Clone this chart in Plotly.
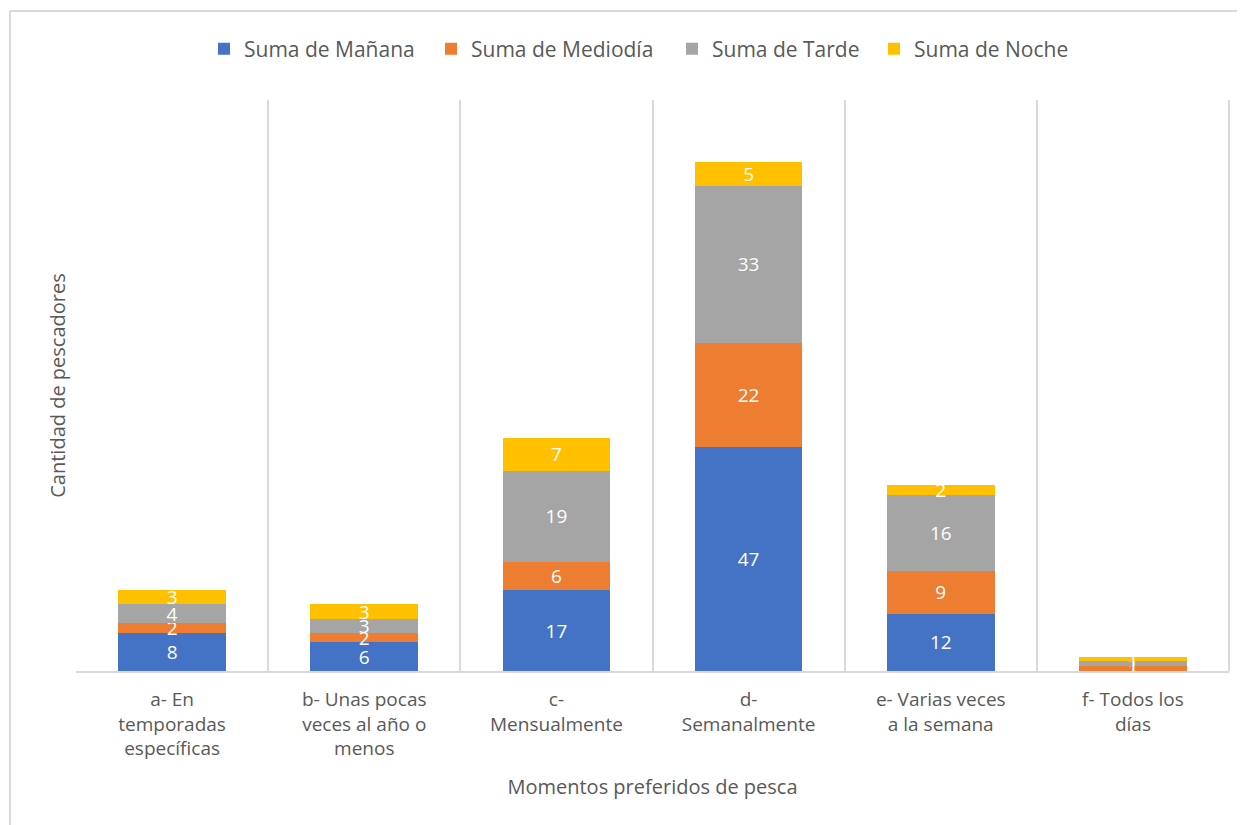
import plotly.graph_objects as go

categories = [
    "a- En<br>temporadas<br>específicas",
    "b- Unas pocas<br>veces al año o<br>menos",
    "c-<br>Mensualmente",
    "d-<br>Semanalmente",
    "e- Varias veces<br>a la semana",
    "f- Todos los<br>días",
]
manana = [8, 6, 17, 47, 12, 0]
mediodia = [2, 2, 6, 22, 9, 1]
tarde = [4, 3, 19, 33, 16, 1]
noche = [3, 3, 7, 5, 2, 1]

series = [
    ("Suma de Mañana", manana, "#4472C4"),
    ("Suma de Mediodía", mediodia, "#ED7D31"),
    ("Suma de Tarde", tarde, "#A5A5A5"),
    ("Suma de Noche", noche, "#FFC000"),
]
legend_ids = ["legend", "legend2", "legend3", "legend4"]

FONT = "Open Sans, Lato, sans-serif"

fig = go.Figure()
for (name, vals, color), lid in zip(series, legend_ids):
    fig.add_trace(go.Bar(
        x=categories, y=vals, name=name, legend=lid, showlegend=True,
        marker=dict(color=color, line=dict(width=0)),
        text=[str(v) for v in vals],
        textposition="inside",
        insidetextanchor="middle",
        textangle=0,
        textfont=dict(color="white", size=19, family=FONT),
        cliponaxis=False,
    ))

# page is offset by 8px (body margin), so figure coords = screen - 8
OFF = 8
PL, PT, PW, PH = 76 - OFF, 100 - OFF, 1153, 571
W, H = 1245, 825

legend_left_screen = [204, 431, 672, 874]
legend_layout = {}
for lid, xs in zip(legend_ids, legend_left_screen):
    legend_layout[lid] = dict(
        orientation="h", x=(xs - OFF - PL) / PW, xanchor="left",
        y=(PT + PH - (49 - OFF)) / PH, yanchor="middle",
        font=dict(size=21, color="#595959", family=FONT),
        itemwidth=30, bgcolor="rgba(0,0,0,0)", visible=True,
    )

fig.update_layout(
    showlegend=True,
    barmode="stack",
    bargap=0.44,
    width=W, height=H,
    paper_bgcolor="white", plot_bgcolor="white",
    margin=dict(l=PL, r=W - PL - PW, t=PT, b=H - PT - PH, autoexpand=False),
    uniformtext=dict(minsize=19, mode="show"),
    font=dict(family=FONT, color="#595959"),
    xaxis=dict(
        automargin=False,
        tickson="boundaries", showgrid=True, gridcolor="#D9D9D9", gridwidth=2,
        showline=True, linecolor="#D9D9D9", linewidth=2,
        ticks="", ticklabelstandoff=10,
        tickfont=dict(size=19, color="#595959", family=FONT),
        title=dict(text="Momentos preferidos de pesca",
                   font=dict(size=20, color="#595959", family=FONT), standoff=20),
    ),
    yaxis=dict(
        automargin=False,
        range=[0, 120], showgrid=False, showticklabels=False, zeroline=False,
        showline=False,
        title=dict(text="Cantidad de pescadores",
                   font=dict(size=20, color="#595959", family=FONT), standoff=4),
    ),
    shapes=[
        dict(type="line", xref="paper", yref="paper",
             x0=(10 - OFF - PL) / PW, x1=(W - PL) / PW,
             y0=(PT + PH - (11 - OFF)) / PH, y1=(PT + PH - (11 - OFF)) / PH,
             line=dict(color="#D9D9D9", width=2)),
        dict(type="line", xref="paper", yref="paper",
             x0=(10 - OFF - PL) / PW, x1=(10 - OFF - PL) / PW,
             y0=(PT + PH - (11 - OFF)) / PH, y1=(PT + PH - H) / PH,
             line=dict(color="#D9D9D9", width=2)),
        dict(type="line", xref="paper", yref="paper",
             x0=1, x1=1, y0=0, y1=1,
             line=dict(color="#D9D9D9", width=2)),
    ],
    **legend_layout,
)

fig.write_html("out.html")
